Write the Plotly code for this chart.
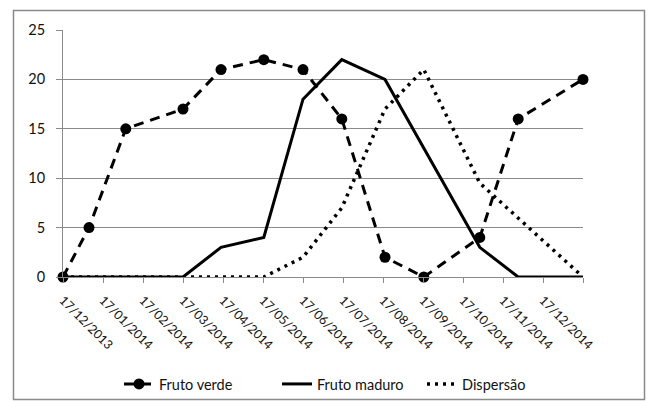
import plotly.graph_objects as go

# --- data -------------------------------------------------------------
tick_labels = ["17/12/2013", "17/01/2014", "17/02/2014", "17/03/2014", "17/04/2014",
               "17/05/2014", "17/06/2014", "17/07/2014", "17/08/2014", "17/09/2014",
               "17/10/2014", "17/11/2014", "17/12/2014"]
# sampling positions along the time axis (in axis units, one unit per label step)
sample_pos = [0, 0.65, 1.57, 3.0, 3.95, 5.02, 6.0, 6.97, 8.05, 9.02, 10.42, 11.38, 13.0]
fruto_verde = [0, 5, 15, 17, 21, 22, 21, 16, 2, 0, 4, 16, 20]
fruto_maduro = [0, 0, 0, 0, 3, 4, 18, 22, 20, 13, 3, 0, 0]
dispersao = [0, 0, 0, 0, 0, 0, 2, 7, 17, 21, 9.5, 6, 0]

FONT = "Lato"
GRID = "#8a8a8a"
W, H = 649, 401
L, R, T, B = 63, 583, 30, 277
pw, ph = R - L, B - T

fig = go.Figure()
fig.add_trace(go.Scatter(
    x=sample_pos, y=fruto_verde, name="Fruto verde", mode="lines+markers",
    line=dict(color="black", width=3, dash="10px,7px"),
    marker=dict(symbol="circle", size=11, color="black"), cliponaxis=False,
    legend="legend"))
fig.add_trace(go.Scatter(
    x=sample_pos, y=fruto_maduro, name="Fruto maduro", mode="lines",
    line=dict(color="black", width=3), cliponaxis=False, legend="legend2"))
fig.add_trace(go.Scatter(
    x=sample_pos, y=dispersao, name="Dispersão", mode="lines",
    line=dict(color="black", width=3.5, dash="3px,5px"), cliponaxis=False,
    legend="legend3"))


def leg(px):
    return dict(orientation="h", x=(px - L) / pw, xanchor="left", y=(B - 384) / ph,
                yanchor="middle", font=dict(size=14.5, family=FONT),
                bgcolor="rgba(0,0,0,0)")


fig.update_layout(
    width=W, height=H,
    margin=dict(l=L, r=W - R, t=T, b=H - B, pad=0, autoexpand=False),
    paper_bgcolor="white", plot_bgcolor="white",
    font=dict(family=FONT, color="#111111", size=13),
    showlegend=True,
    legend=leg(119), legend2=leg(277), legend3=leg(422),
    xaxis=dict(range=[0, 13], tickmode="array",
               tickvals=list(range(len(tick_labels) + 1)),
               ticktext=tick_labels + [""],
               tickangle=45, showgrid=False, zeroline=False,
               showline=True, linecolor=GRID, linewidth=1,
               ticks="outside", ticklen=5, tickcolor=GRID,
               ticklabelstandoff=5,
               tickfont=dict(size=12.5, family=FONT)),
    yaxis=dict(range=[0, 25], dtick=5, showgrid=True, gridcolor=GRID, gridwidth=1,
               zeroline=False, showline=True, linecolor=GRID, linewidth=1,
               ticks="outside", ticklen=6, tickcolor=GRID,
               ticklabelstandoff=8, tickfont=dict(size=14.5, family=FONT)),
    shapes=[dict(type="rect", xref="paper", yref="paper",
                 x0=(13.5 - L) / pw, x1=(644.5 - L) / pw,
                 y0=(B - 399.5) / ph, y1=(B - 10.5) / ph,
                 line=dict(color=GRID, width=1.5), layer="below")],
)

fig.write_html("out.html")
